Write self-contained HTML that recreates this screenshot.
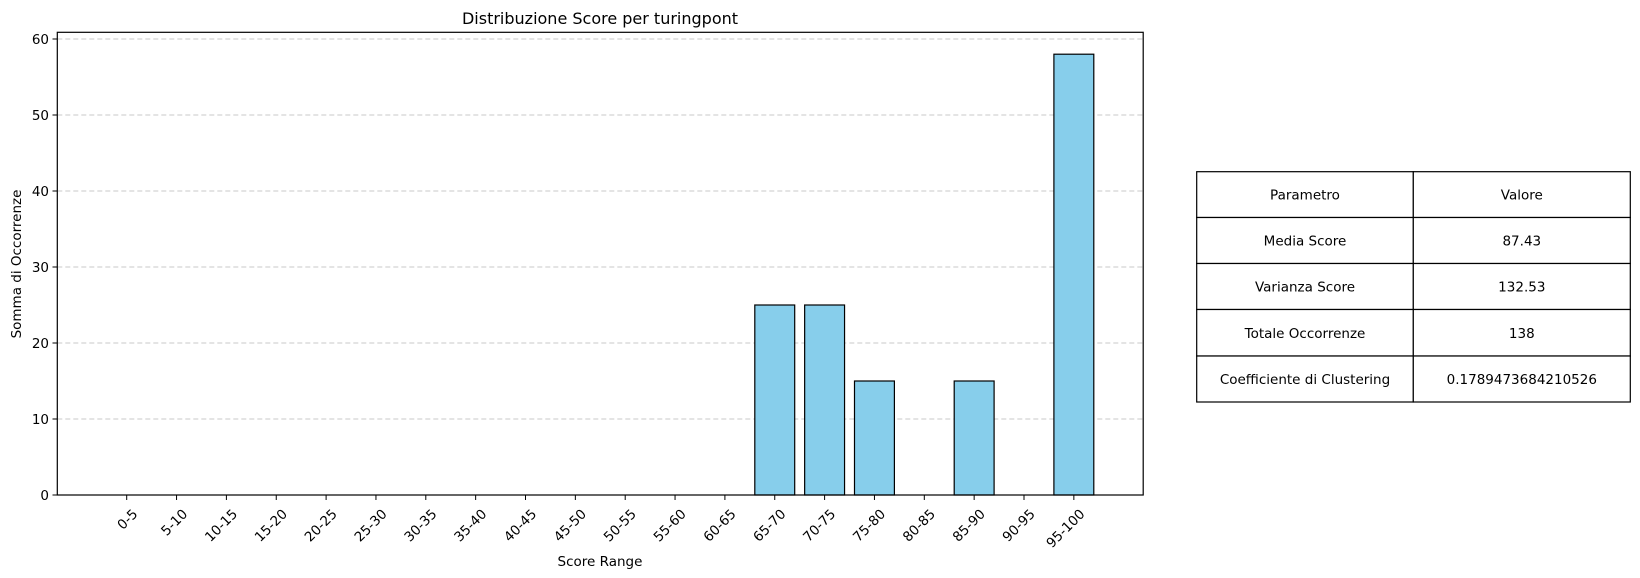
<!DOCTYPE html>
<html><head><meta charset="utf-8"><style>
body{margin:0;background:#fff;}
svg{display:block;font-family:"DejaVu Sans","Liberation Sans",sans-serif;}
</style></head><body>
<svg id="chart" width="1640" height="578" viewBox="0 0 1640 578">
<g id="grid"></g>
<g id="bars"></g>
<rect x="57.3" y="32.3" width="1085.9" height="462.7" fill="none" stroke="#000" stroke-width="1.2"/>
<g id="yticks"></g>
<g id="xticks"></g>
<text x="600" y="24" font-size="16" text-anchor="middle">Distribuzione Score per turingpont</text>
<text x="600" y="566" font-size="13.5" text-anchor="middle">Score Range</text>
<text transform="translate(21,264) rotate(-90)" font-size="13.5" text-anchor="middle">Somma di Occorrenze</text>
<g id="table"></g>
</svg>
<script>
const categories=["0-5","5-10","10-15","15-20","20-25","25-30","30-35","35-40","40-45","45-50","50-55","55-60","60-65","65-70","70-75","75-80","80-85","85-90","90-95","95-100"];
const values=[0,0,0,0,0,0,0,0,0,0,0,0,0,25,25,15,0,15,0,58];
const yTicks=[0,10,20,30,40,50,60];
const tableRows=[["Parametro","Valore"],["Media Score","87.43"],["Varianza Score","132.53"],["Totale Occorrenze","138"],["Coefficiente di Clustering","0.1789473684210526"]];
const NS="http://www.w3.org/2000/svg";
function mk(tag,attrs,parent,text){const e=document.createElementNS(NS,tag);for(const k in attrs)e.setAttribute(k,attrs[k]);if(text!==undefined)e.textContent=text;parent.appendChild(e);return e;}
const x=i=>126.7+i*49.85;
const y=v=>495-v*7.6;
const bw=39.9;
const grid=document.getElementById('grid'),bars=document.getElementById('bars'),yt=document.getElementById('yticks'),xt=document.getElementById('xticks');
yTicks.forEach(t=>{
  const g=mk('line',{x1:57.3,x2:1143.2,y1:y(t),y2:y(t),stroke:'#c8c8c8','stroke-dasharray':'5,3','stroke-width':1},grid);
  
  
  mk('line',{x1:52.5,x2:57.3,y1:y(t),y2:y(t),stroke:'#000'},yt);
  const l=mk('text',{x:49,y:y(t)+5,'font-size':13.5,'text-anchor':'end'},yt,String(t));
  
  
});
categories.forEach((c,i)=>{
  const v=values[i];
  const r=mk('rect',{x:x(i)-bw/2,y:y(v),width:bw,height:Math.max(0,y(0)-y(v)),fill:'#87ceeb',stroke:'#000','stroke-width':v>0?1.2:0.4},bars);
  
  
  mk('line',{x1:x(i),x2:x(i),y1:495,y2:500,stroke:'#000'},xt);
  const l=mk('text',{transform:`translate(${x(i)+5},${508}) rotate(-45)`,'font-size':13.5,'text-anchor':'end','dominant-baseline':'hanging'},xt,c);
  
  
});
const tb=document.getElementById('table');
const rowsY=[171.7,217.5,263.5,309.5,356,402];
const cx=[1196.7,1413.3,1630.3];
tableRows.forEach((row,r)=>{
  row.forEach((cell,c)=>{
    mk('rect',{x:cx[c],y:rowsY[r],width:cx[c+1]-cx[c],height:rowsY[r+1]-rowsY[r],fill:'#fff',stroke:'#000','stroke-width':1.2},tb);
    const t=mk('text',{x:(cx[c]+cx[c+1])/2,y:(rowsY[r]+rowsY[r+1])/2+5,'font-size':13.5,'text-anchor':'middle'},tb,cell);
    
    
  });
});
</script>
</body></html>
